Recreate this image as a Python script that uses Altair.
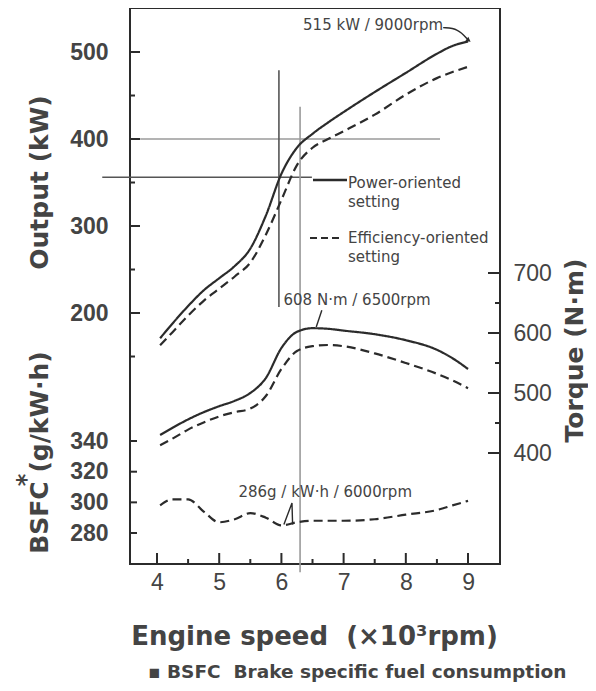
import altair as alt
import pandas as pd

# ---------------- data ----------------
rpm = [4.05, 4.25, 4.5, 4.75, 5.0, 5.25, 5.5, 5.75, 6.0, 6.25, 6.5, 6.75, 7.0, 7.5, 8.0, 8.5, 8.75, 9.0]
power_output_kw = [171, 188, 208, 226, 240, 254, 274, 312, 360, 390, 406, 419, 431, 454, 476, 498, 507, 512]
eff_output_kw = [163, 178, 197, 214, 228, 242, 258, 290, 330, 370, 390, 400, 409, 428, 451, 470, 477, 483]
power_torque_nm = [430, 442, 456, 468, 478, 487, 500, 525, 575, 602, 608, 607, 604, 598, 588, 572, 558, 540]
eff_torque_nm = [413, 424, 439, 451, 461, 468, 474, 495, 540, 570, 578, 580, 578, 566, 550, 532, 521, 508]
eff_bsfc = [298, 302, 302, 294, 287, 289, 293, 290, 285, 287, 288, 288, 288, 289, 292, 295, 298, 301]

series_names = ["Power-oriented setting", "Efficiency-oriented setting"]

x_major = [4, 5, 6, 7, 8, 9]
x_minor = [4.5, 5.5, 6.5, 7.5, 8.5]
output_major = [200, 300, 400, 500]
output_minor = [150, 250, 350, 450]
torque_major = [400, 500, 600, 700]
torque_minor = [450, 550, 650]
bsfc_major = [280, 300, 320, 340]

# guide lines (rpm / kW)
vline_dark = {"rpm": [5.96], "kw": [479], "kw2": [207]}
vline_light = {"rpm": [6.3], "kw": [437], "kw2": [-98]}
hline_light = {"rpm": [3.73], "rpm2": [8.55], "kw": [400]}
hline_dark = {"rpm": [3.12], "rpm2": [6.49], "kw": [356]}

# annotations
max_power_point = {"rpm": [9.0], "kw": [515], "label": ["515 kW / 9000rpm"]}
max_power_arrow = {"rpm": [8.6, 8.84, 9.0], "kw": [528, 527, 514]}
max_power_head = {"rpm": [9.0], "kw": [514]}
max_torque_point = {"rpm": [6.5], "nm": [608], "label": ["608 N·m / 6500rpm"]}
max_torque_arrow = {"rpm": [6.65, 6.56], "nm": [638, 610]}
min_bsfc_point = {"rpm": [6.0], "g": [286], "label": ["286g / kW·h / 6000rpm"]}
min_bsfc_arrow = {"rpm": [6.17, 6.04, 6.18], "g": [299.6, 285.5, 285.5]}

# ---------------- styling ----------------
INK = "#2b2b2b"
TXT = "#444444"
LBL_FONT = "Liberation Sans"
ANN_FONT = "DejaVu Sans"
W, H = 370, 556
DASH = [9, 5]


def x_enc():
    return alt.X(
        "rpm:Q",
        scale=alt.Scale(domain=[3.566, 9.514], nice=False, zero=False),
        axis=alt.Axis(
            values=x_major, format="d",
            ticks=False, tickSize=0, domain=False, grid=False,
            labelFont=LBL_FONT, labelFontSize=23, labelColor=TXT,
            labelPadding=7, labelBaseline="top",
            title="Engine speed\u00a0\u00a0(×10³rpm)",
            titleFont=ANN_FONT, titleFontSize=26, titleFontWeight="bold", titleColor=TXT,
            titleX=184, titleY=80, titleAlign="center", titleBaseline="alphabetic",
        ),
    )


def y_out():
    return alt.Y(
        "kw:Q",
        scale=alt.Scale(domain=[-88.5, 550.6], nice=False, zero=False),
        axis=alt.Axis(
            orient="left", values=output_major, format="d",
            ticks=False, tickSize=0, domain=False, grid=False,
            labelFont=LBL_FONT, labelFontSize=23, labelFontWeight="bold", labelColor=TXT,
            labelPadding=22,
            title="Output (kW)", titleFont=ANN_FONT, titleFontSize=25, titleFontWeight="bold",
            titleColor=TXT, titleAngle=270, titleX=-91, titleY=174,
            titleAlign="center", titleBaseline="middle",
        ),
    )


def y_torque():
    return alt.Y(
        "nm:Q",
        scale=alt.Scale(domain=[215, 1141.7], nice=False, zero=False),
        axis=alt.Axis(
            orient="right", values=torque_major, format="d",
            ticks=False, tickSize=0, domain=False, grid=False,
            labelFont=LBL_FONT, labelFontSize=23, labelColor=TXT,
            labelPadding=13,
            title="Torque (N·m)", titleFont=ANN_FONT, titleFontSize=25, titleFontWeight="bold",
            titleColor=TXT, titleAngle=270, titleX=74, titleY=342,
            titleAlign="center", titleBaseline="middle",
        ),
    )


def y_bsfc():
    return alt.Y(
        "g:Q",
        scale=alt.Scale(domain=[259.8, 622.4], nice=False, zero=False),
        axis=alt.Axis(
            orient="left", values=bsfc_major, format="d",
            ticks=False, tickSize=0, domain=False, grid=False,
            labelFont=LBL_FONT, labelFontSize=23, labelFontWeight="bold", labelColor=TXT,
            labelPadding=22,
            title="BSFC (g/kW·h)", titleFont=ANN_FONT, titleFontSize=25, titleFontWeight="bold",
            titleColor=TXT, titleAngle=270, titleX=-91, titleY=444,
            titleAlign="center", titleBaseline="middle",
        ),
    )


n = len(rpm)
dash_scale = alt.Scale(domain=series_names, range=[[1, 0], DASH])

out_df = pd.DataFrame({
    "rpm": rpm * 2,
    "kw": power_output_kw + eff_output_kw,
    "setting": [series_names[0]] * n + [series_names[1]] * n,
})
torque_df = pd.DataFrame({
    "rpm": rpm * 2,
    "nm": power_torque_nm + eff_torque_nm,
    "setting": [series_names[0]] * n + [series_names[1]] * n,
})
bsfc_df = pd.DataFrame({"rpm": rpm, "g": eff_bsfc})


def yticks(values, field, yenc, x0, x1):
    return alt.Chart(pd.DataFrame({field: values})).mark_rule(color=INK, strokeWidth=2).encode(
        y=yenc, x=alt.value(x0), x2=alt.value(x1))


def xticks(values, length):
    return alt.Chart(pd.DataFrame({"rpm": values})).mark_rule(color=INK, strokeWidth=2).encode(
        x=x_enc(), y=alt.value(H), y2=alt.value(H - length))


# ---- output group ----
out_lines = alt.Chart(out_df).mark_line(color=INK, strokeWidth=2.2, interpolate="monotone").encode(
    x=x_enc(), y=y_out(),
    strokeDash=alt.StrokeDash("setting:N", scale=dash_scale, legend=None),
)
v_dark = alt.Chart(pd.DataFrame(vline_dark)).mark_rule(color="#555555", strokeWidth=1.6).encode(
    x=x_enc(), y=y_out(), y2="kw2:Q")
v_light = alt.Chart(pd.DataFrame(vline_light)).mark_rule(color="#9a9a9a", strokeWidth=1.6).encode(
    x=x_enc(), y=y_out(), y2="kw2:Q")
h_light = alt.Chart(pd.DataFrame(hline_light)).mark_rule(color="#9a9a9a", strokeWidth=1.6).encode(
    x=x_enc(), x2="rpm2:Q", y=y_out())
h_dark = alt.Chart(pd.DataFrame(hline_dark)).mark_rule(color="#555555", strokeWidth=1.6).encode(
    x=x_enc(), x2="rpm2:Q", y=y_out())
p_text = alt.Chart(pd.DataFrame(max_power_point)).mark_text(
    align="right", baseline="middle", dx=-25, dy=-14, font=ANN_FONT, fontSize=15, color=TXT
).encode(x=x_enc(), y=y_out(), text="label:N")
p_arrow = alt.Chart(pd.DataFrame(max_power_arrow)).mark_line(
    color=INK, strokeWidth=1.4, interpolate="basis").encode(x=x_enc(), y=y_out())
p_head = alt.Chart(pd.DataFrame(max_power_head)).mark_point(
    shape="triangle", angle=125, size=30, filled=True, color=INK, opacity=1
).encode(x=x_enc(), y=y_out())

output_group = alt.layer(
    h_light, h_dark, v_dark, v_light, out_lines, p_text, p_arrow, p_head,
    yticks(output_major, "kw", y_out(), 0, 10),
    yticks(output_minor, "kw", y_out(), 0, 5),
    xticks(x_major, 11),
    xticks(x_minor, 5),
)

# ---- torque group ----
tq_lines = alt.Chart(torque_df).mark_line(color=INK, strokeWidth=2.2, interpolate="monotone").encode(
    x=x_enc(), y=y_torque(),
    strokeDash=alt.StrokeDash("setting:N", scale=dash_scale, legend=None),
)
tq_text = alt.Chart(pd.DataFrame(max_torque_point)).mark_text(
    align="left", baseline="middle", dx=-29, dy=-28, font=ANN_FONT, fontSize=15, color=TXT
).encode(x=x_enc(), y=y_torque(), text="label:N")
tq_arrow = alt.Chart(pd.DataFrame(max_torque_arrow)).mark_line(color=INK, strokeWidth=1.4).encode(
    x=x_enc(), y=y_torque())
torque_group = alt.layer(
    tq_lines, tq_text, tq_arrow,
    yticks(torque_major, "nm", y_torque(), W, W - 12),
    yticks(torque_minor, "nm", y_torque(), W, W - 5),
)

# ---- BSFC group ----
bs_line = alt.Chart(bsfc_df).mark_line(
    color=INK, strokeWidth=2.2, strokeDash=DASH, interpolate="monotone"
).encode(x=x_enc(), y=y_bsfc())
bs_text = alt.Chart(pd.DataFrame(min_bsfc_point)).mark_text(
    align="left", baseline="middle", dx=-43, dy=-32, font=ANN_FONT, fontSize=15, color=TXT
).encode(x=x_enc(), y=y_bsfc(), text="label:N")
bs_arrow = alt.Chart(pd.DataFrame(min_bsfc_arrow)).mark_line(color=INK, strokeWidth=1.4).encode(
    x=x_enc(), y=y_bsfc())
bsfc_group = alt.layer(
    bs_line, bs_text, bs_arrow,
    yticks(bsfc_major, "g", y_bsfc(), 0, 7),
)

# ---- legend, asterisk and footnote (layout text) ----
one = pd.DataFrame({"k": [0]})


def label(txt, px, py, size=15, font=ANN_FONT, weight="normal", align="left", angle=0):
    return alt.Chart(one).mark_text(
        align=align, baseline="middle", font=font, fontSize=size, fontWeight=weight,
        color=TXT, angle=angle,
    ).encode(x=alt.value(px), y=alt.value(py), text=alt.value(txt))


leg_solid = alt.Chart(one).mark_rule(color=INK, strokeWidth=2.4).encode(
    x=alt.value(183), x2=alt.value(217), y=alt.value(172))
leg_dash = alt.Chart(one).mark_rule(color=INK, strokeWidth=2.0, strokeDash=[7, 4]).encode(
    x=alt.value(180), x2=alt.value(213), y=alt.value(230))

decor = alt.layer(
    leg_solid, leg_dash,
    label("Power-oriented", 218, 175),
    label("setting", 218, 194),
    label("Efficiency-oriented", 218, 230),
    label("setting", 218, 249),
    label("*", -103, 472, size=24, font=ANN_FONT, weight="bold", align="center", angle=270),
    label("▪ BSFC\u00a0\u00a0Brake specific fuel consumption", 18, 664, size=18.5,
          font=ANN_FONT, weight="bold"),
)

chart = alt.layer(output_group, torque_group, bsfc_group, decor).resolve_scale(
    y="independent"
).properties(
    width=W, height=H,
    autosize=alt.AutoSizeParams(type="none"),
    padding={"left": 122, "top": 0, "right": 88, "bottom": 119},
    background="white",
).configure_view(stroke=INK, strokeWidth=2)

chart.save("out.html", embed_options={"renderer": "svg", "actions": False})
